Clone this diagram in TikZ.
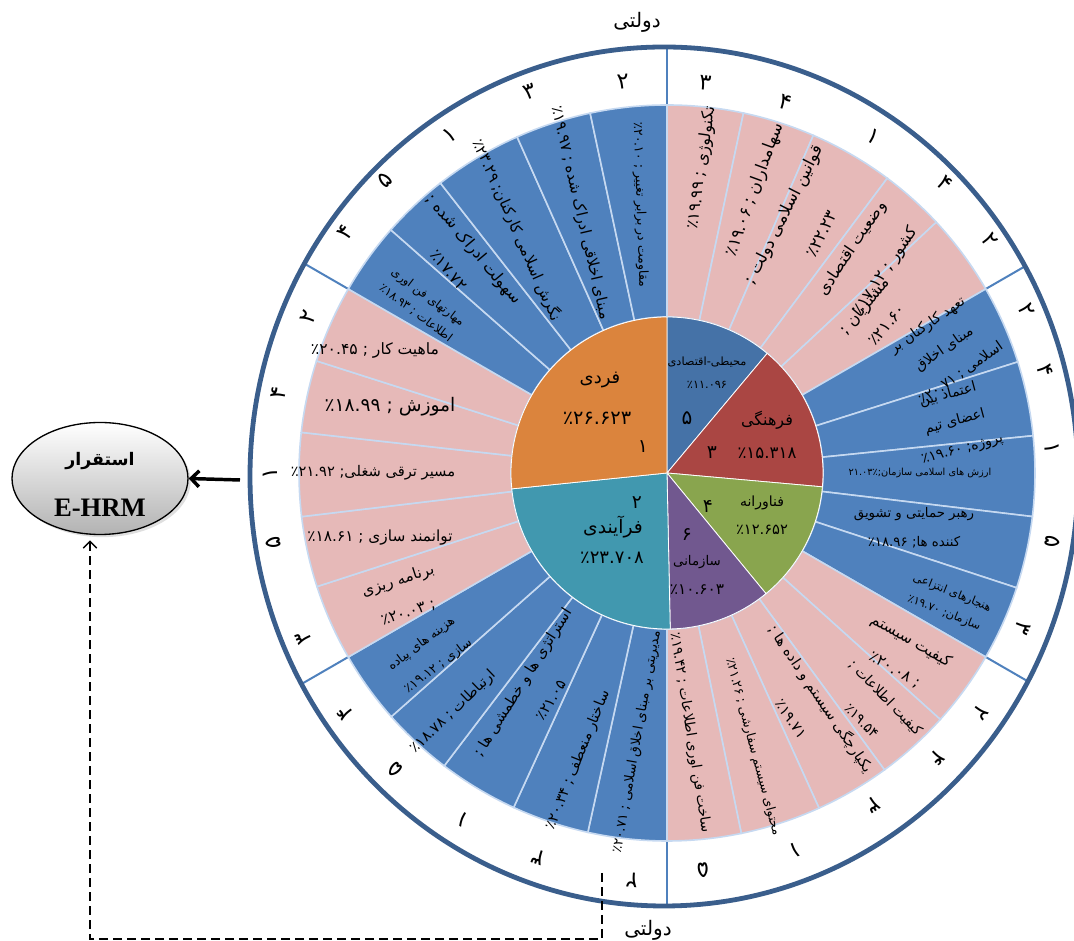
\documentclass[tikz,border=0pt]{standalone}
\usepackage{fontspec}
\usetikzlibrary{arrows.meta,shapes.geometric,shadows}
\newfontfamily\fa[Script=Arabic]{DejaVu Sans}
\newfontfamily\tnr{Liberation Serif}
\TeXXeTstate=1
\newcommand\RL[1]{\beginR #1\endR}
\newcommand\fs[1]{\pgfmathsetmacro\myblsk{#1*1.6}\fontsize{#1}{\myblsk}\selectfont}
\newcommand\fsb[2]{\fontsize{#1}{#2}\selectfont}
\definecolor{segblue}{HTML}{4F81BD}
\definecolor{segpink}{HTML}{E6B9B8}
\definecolor{segline}{HTML}{C6D9F1}
\definecolor{pblue}{HTML}{4572A7}
\definecolor{pred}{HTML}{AA4643}
\definecolor{pgreen}{HTML}{89A54E}
\definecolor{ppurple}{HTML}{71588F}
\definecolor{pteal}{HTML}{4198AF}
\definecolor{porange}{HTML}{DB843D}
\definecolor{outerline}{HTML}{3A5E8C}
\definecolor{divline}{HTML}{4F81BD}
\begin{document}
\begin{tikzpicture}[x=0.75pt,y=0.75pt,
  every node/.style={inner sep=0pt},
  lab/.style={font=\fa, align=center, text=black},
  num/.style={font=\fa\fontsize{17}{17}\selectfont},
  seg/.style={draw=segline, line width=1.2pt}]
\useasboundingbox (0,0) rectangle (1074,941);
\clip (0,0) rectangle (1074,941);

% outer ring dividers
\begin{scope}
\clip (664,464.5) ellipse [x radius=414, y radius=429.5];
\begin{scope}[shift={(667,468)}]
\foreach \t in {90,30,-30,-90,-150,150}
  \draw[divline, line width=1.5pt] (\t:366) -- (\t:470);
\end{scope}
\end{scope}
\draw[outerline, line width=3.6pt] (664,464.5) ellipse [x radius=414, y radius=429.5];

% doughnut segments and pie
\begin{scope}[shift={(667,468)}]
\foreach \a/\b/\c in {90/78.006/segpink, 78.006/66.57/segpink, 66.57/53.232/segpink, 53.232/42.96/segpink, 42.96/30/segpink,
  30/17.574/segblue, 17.574/5.814/segblue, 5.814/-6.804/segblue, -6.804/-18.18/segblue, -18.18/-30/segblue,
  -30/-42.048/segpink, -42.048/-53.772/segpink, -53.772/-65.598/segpink, -65.598/-78.354/segpink, -78.354/-90/segpink,
  -90/-102.426/segblue, -102.426/-114.63/segblue, -114.63/-127.26/segblue, -127.26/-138.528/segblue, -138.528/-150/segblue,
  -150/-162.018/segpink, -162.018/-173.184/segpink, -173.184/-186.336/segpink, -186.336/-197.73/segpink, -197.73/-210/segpink,
  150/138.642/segblue, 138.642/128.01/segblue, 128.01/114.036/segblue, 114.036/102.054/segblue, 102.054/90/segblue}
  \filldraw[seg, fill=\c] (\a:156) arc[start angle=\a, end angle=\b, radius=156] -- (\b:368) arc[start angle=\b, end angle=\a, radius=368] -- cycle;
\foreach \a/\b/\c in {90/50.054/pblue, 50.054/-5.091/pred, -5.091/-50.638/pgreen, -50.638/-88.809/ppurple, -88.809/-174.158/pteal, -174.158/-270/porange}
  \filldraw[fill=\c, draw=white, line width=0.6pt] (0,0) -- (\a:156) arc[start angle=\a, end angle=\b, radius=156] -- cycle;
\end{scope}

% top-right block
\node[lab, rotate=82, font=\fa\fs{12}] (tr1) at (702,773) {\RL{تکنولوژی ; ٪۱۹.۹۹}};
\node[lab, rotate=70, font=\fa\fs{12.5}] (tr2) at (755,751) {\RL{سهامداران ; ٪۱۹.۰۶}};
\node[lab, rotate=63, font=\fa\fsb{12.5}{32}] (tr3) at (802,717) {\RL{قوانین اسلامی دولت ;}\\\RL{٪۲۲.۲۳}};
\node[lab, rotate=56, font=\fa\fsb{12}{30}] (tr4) at (869,681) {\RL{وضعیت اقتصادی}\\\RL{کشور ; ٪۱۷.۱۲}};
\node[lab, rotate=50, font=\fa\fsb{12}{22}] (tr5) at (875,626) {\RL{مشتریان ;}\\\RL{٪۲۱.۶۰}};

% right block
\node[lab, rotate=35, font=\fa\fsb{10.5}{22}] (r1) at (944,592) {\RL{تعهد کارکنان بر}\\\RL{مبنای اخلاق}\\\RL{اسلامی ; ٪۲۰.۷۱}};
\node[lab, rotate=15, font=\fa\fsb{10.5}{21}] (r2) at (955,519) {\RL{اعتماد بین}\\\RL{اعضای تیم}\\\RL{پروژه; ٪۱۹.۶۰}};
\node[lab, font=\fa\fs{7.3}] (r3) at (920,468) {\RL{ارزش های اسلامی سازمان;٪۲۱.۰۳}};
\node[lab, font=\fa\fsb{10}{22}] (r4) at (914,413) {\RL{رهبر حمایتی و تشویق}\\\RL{کننده ها; ٪۱۸.۹۶}};
\node[lab, rotate=-22, font=\fa\fsb{8.5}{16}] (r5) at (948,338) {\RL{هنجارهای انتزاعی}\\\RL{سازمان; ٪۱۹.۷۰}};

% lower-right block
\node[lab, rotate=-30, font=\fa\fsb{11.5}{25}] (lr1) at (903,286) {\RL{کیفیت سیستم}\\\RL{; ٪۲۰.۰۸}};
\node[lab, rotate=-46, font=\fa\fsb{10.5}{25}] (lr2) at (874,232) {\RL{کیفیت اطلاعات ;}\\\RL{٪۱۹.۵۴}};
\node[lab, rotate=-56, font=\fa\fsb{11}{27}] (lr3) at (807,233) {\RL{یکپارچگی سیستم و داده ها ;}\\\RL{٪۱۹.۷۱}};
\node[lab, rotate=-75, font=\fa\fs{9.5}] (lr4) at (753,194) {\RL{محتوای سیستم سفارشی ; ٪۲۱.۲۶}};
\node[lab, rotate=-81, font=\fa\fs{10.5}] (lr5) at (690,208) {\RL{ساخت فن اوری اطلاعات ; ٪۱۹.۴۲}};

% lower-left block
\node[lab, rotate=80, font=\fa\fs{10}] (ll1) at (637,199) {\RL{مدیریتی بر مبنای اخلاق اسلامی ; ٪۲۰.۷۱}};
\node[lab, rotate=68, font=\fa\fs{10.8}] (ll2) at (578,181) {\RL{ساختار منعطف ; ٪۲۰.۳۴}};
\node[lab, rotate=58, font=\fa\fsb{11}{25}] (ll3) at (536,250) {\RL{استراتژی ها و خطمشی ها ;}\\\RL{٪۲۱.۰۵}};
\node[lab, rotate=44, font=\fa\fs{11}] (ll4) at (453,229) {\RL{ارتباطات ; ٪۱۸.۷۸}};
\node[lab, rotate=37, font=\fa\fsb{9.5}{21}] (ll5) at (430,286) {\RL{هزینه های پیاده}\\\RL{سازی ; ٪۱۹.۱۲}};

% left block
\node[lab, rotate=18, font=\fa\fsb{11.5}{25}] (l1) at (403,345) {\RL{برنامه ریزی}\\\RL{; ٪۲۰.۰۳}};
\node[lab, font=\fa\fs{11.5}] (l2) at (380,403) {\RL{توانمند سازی ; ٪۱۸.۶۱}};
\node[lab, font=\fa\fs{11}] (l3) at (373,468) {\RL{مسیر ترقی شغلی; ٪۲۱.۹۲}};
\node[lab, font=\fa\fs{14}] (l4) at (390,534) {\RL{اموزش ; ٪۱۸.۹۹}};
\node[lab, font=\fa\fs{11.7}] (l5) at (375,591) {\RL{ماهیت کار ; ٪۲۰.۴۵}};

% upper-left block
\node[lab, rotate=-37, font=\fa\fsb{8.8}{15}] (ul1) at (422,636) {\RL{مهارتهای فن اوری}\\\RL{اطلاعات ; ٪۱۸.۹۳}};
\node[lab, rotate=-50, font=\fa\fsb{12}{25}] (ul2) at (462,682) {\RL{سهولت ادراک شده ;}\\\RL{٪۱۷.۷۲}};
\node[lab, rotate=-66, font=\fa\fs{11.3}] (ul3) at (517,711) {\RL{نگرش اسلامی کارکنان; ٪۲۳.۲۹}};
\node[lab, rotate=-77, font=\fa\fs{11.5}] (ul4) at (580,728) {\RL{مبنای اخلاقی ادراک شده ; ٪۱۹.۹۷}};
\node[lab, rotate=-88, font=\fa\fs{9.5}] (ul5) at (640,736) {\RL{مقاومت در برابر تغییر ; ٪۲۰.۱۰}};

% ranks in outer ring
\foreach \i/\x/\y/\r/\d in {1/705/858/-5.6/۳, 2/785/839/-17.6/۴, 3/873/804/-31.5/۱, 4/945/758/-43.8/۴, 5/990/701/-54.2/۲,
  6/1027/631/-65.6/۲, 7/1045/571/-74.8/۴, 8/1052/493/-86.3/۱, 9/1053/399/-100.1/۵, 10/1023/313/-113.5/۳,
  11/980/228/-127.5/۲, 12/937/183/-136.5/۴, 13/873/136/-148.2/۳, 14/795/91/-161.2/۱, 15/703/71/-174.8/۵,
  16/632/61/-184.9/۲, 17/538/84/-198.6/۳, 18/463/121/-210.5/۱, 19/395/171/-222.5/۵, 20/345/228/-233.3/۴,
  21/303/303/-245.6/۳, 22/273/398/-259.9/۵, 23/270/468/90/۱, 24/279/548/78.3/۴, 25/308/624/66.5/۲,
  26/345/709/53.2/۴, 27/385/761/43.9/۵, 28/450/806/32.7/۱, 29/530/849/19.8/۳, 30/623/859/6.4/۲}
  \node[num, rotate=\r] (n\i) at (\x,\y) {\d};

% pie labels
\node[lab, font=\fa\fs{8.5}] (pb1) at (707,579) {\RL{محیطی-اقتصادی}};
\node[lab, font=\fa\fs{8.5}] (pb2) at (707,556) {٪۱۱.۰۹۶};
\node[lab, font=\fa\fs{15}] (pb3) at (687,523) {۵};
\node[lab, font=\fa\fs{12}] (pr1) at (767,521) {\RL{فرهنگی}};
\node[lab, font=\fa\fs{12.5}] (pr2) at (767,488) {٪۱۵.۳۱۸};
\node[lab, font=\fa\fs{14}] (pr3) at (712,488) {۳};
\node[lab, font=\fa\fs{10.5}] (pg1) at (762,438) {\RL{فناورانه}};
\node[lab, font=\fa\fs{11}] (pg2) at (762,411) {٪۱۲.۶۵۲};
\node[lab, font=\fa\fs{14}] (pg3) at (708,434) {۴};
\node[lab, font=\fa\fs{10}] (pp1) at (697,379) {\RL{سازمانی}};
\node[lab, font=\fa\fs{11.5}] (pp2) at (697,351) {٪۱۰.۶۰۳};
\node[lab, font=\fa\fs{14}] (pp3) at (687,406) {۶};
\node[lab, font=\fa\fs{14}] (pt1) at (613,414) {\RL{فرآیندی}};
\node[lab, font=\fa\fs{13.5}] (pt2) at (612,383) {٪۲۳.۷۰۸};
\node[lab, font=\fa\fs{14}] (pt3) at (637,438) {۲};
\node[lab, font=\fa\fs{13.5}] (po1) at (600,561) {\RL{فردی}};
\node[lab, font=\fa\fs{14.5}] (po2) at (597,523) {٪۲۶.۶۲۳};
\node[lab, font=\fa\fs{14}] (po3) at (643,494) {۱};

% sector titles
\node[lab, font=\fa\fs{15}] (gt) at (637,919) {\RL{دولتی}};
\node[lab, font=\fa\fs{15}] (gb) at (648,11) {\RL{دولتی}};

% E-HRM ellipse
\node[ellipse, draw=black, line width=1pt, minimum width=132pt, minimum height=84pt,
  top color=white, bottom color=black!30, drop shadow={opacity=0.25, shadow xshift=2pt, shadow yshift=-2pt}] (el) at (100,462.5) {};
\node[lab, font=\fa\bfseries\fs{13}] (elt1) at (100,480) {\RL{استقرار}};
\node[font=\tnr\bfseries\fontsize{20}{20}\selectfont] (elt2) at (100,433) {E-HRM};

% connectors
\coordinate (ringL) at (240,461);
\draw[line width=2.6pt, -{Straight Barb[length=6pt, width=12pt]}] (ringL) -- (el.east);
\coordinate (d1) at (602,68);
\coordinate (d2) at (602,2);
\coordinate (d3) at (90,2);
\draw[line width=1pt, dash pattern=on 7pt off 3.5pt, -{Straight Barb[length=5pt, width=10pt]}] (d1) -- (d2) -- (d3) -- ([yshift=-4pt]d3 |- el.south);
\end{tikzpicture}
\end{document}
